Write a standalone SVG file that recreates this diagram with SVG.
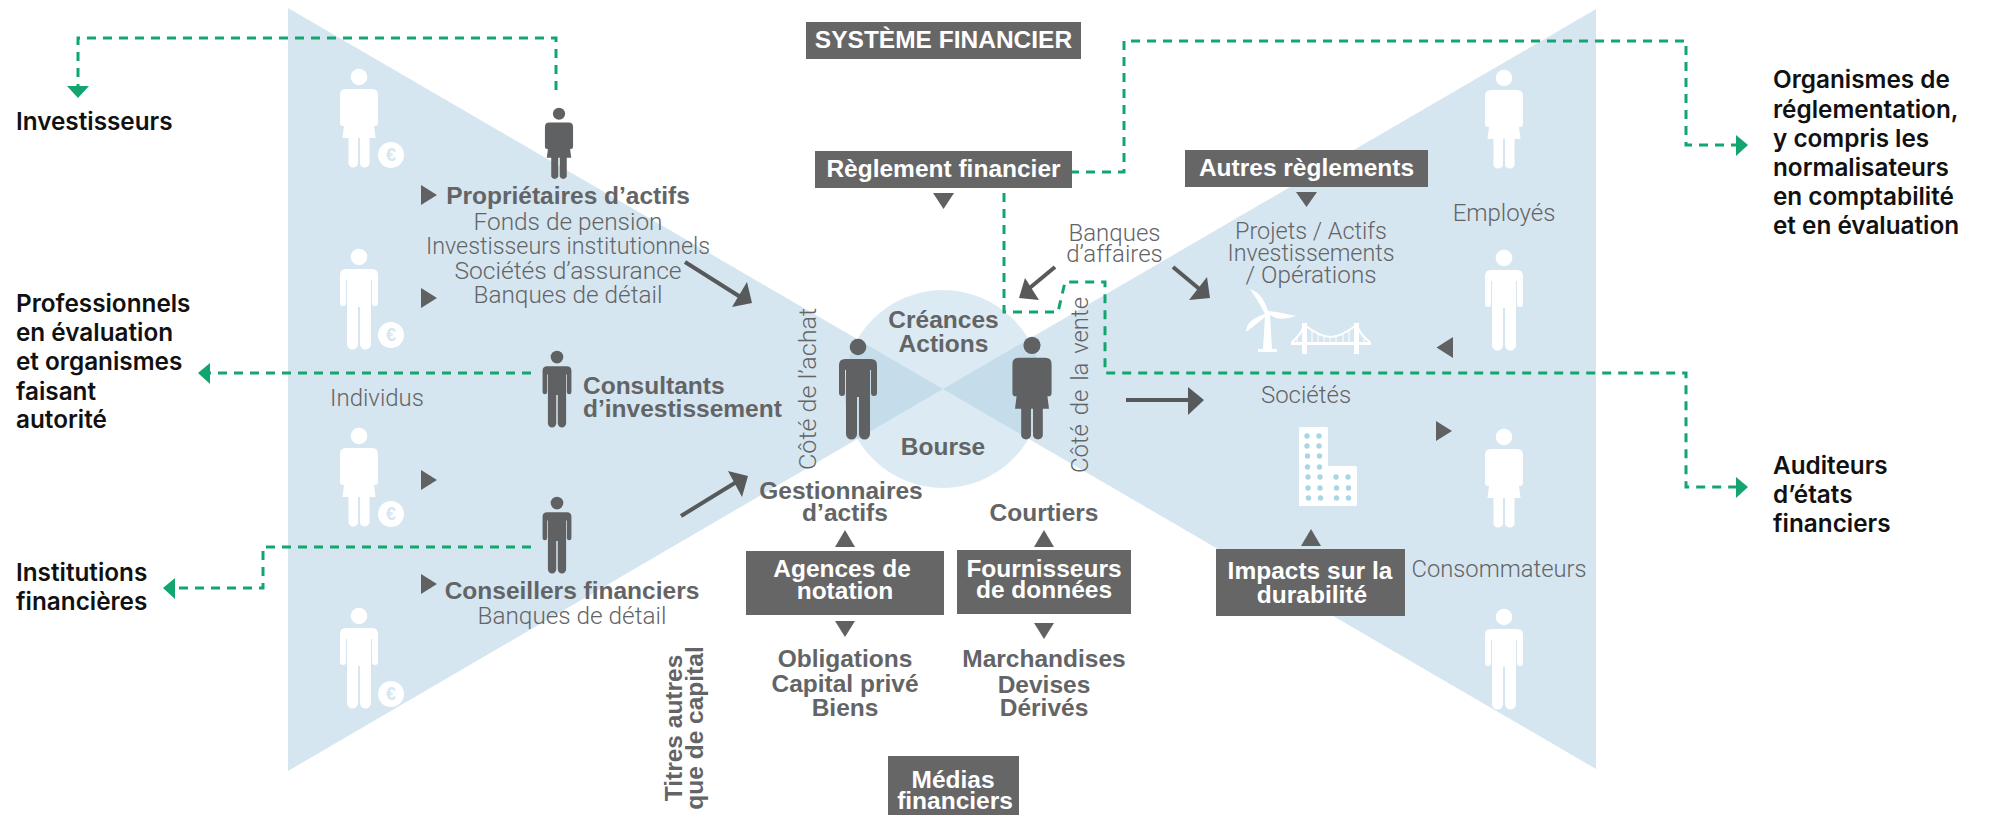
<svg xmlns="http://www.w3.org/2000/svg" xmlns:xlink="http://www.w3.org/1999/xlink" width="1990" height="815" viewBox="0 0 1990 815">
<style>
text{font-family:"Liberation Sans",Arial,sans-serif}
.r{font-family:Roboto,"Liberation Sans",sans-serif;font-weight:300;font-size:24px;fill:#636466;text-anchor:middle}
.b{font-weight:700;font-size:24.5px;fill:#636466;text-anchor:middle}
.w{font-weight:700;font-size:24.5px;fill:#fff;text-anchor:middle}
.k{font-family:Inter,"Liberation Sans",sans-serif;font-weight:600;font-size:24.3px;fill:#111}
.box{fill:#666}
.tri{fill:#5f6163}
.dash{fill:none;stroke:#13a56f;stroke-width:3;stroke-dasharray:9 7}
.ah{fill:#13a56f}
.dk{fill:none;stroke:#58595b;stroke-width:4}
.hd{fill:#58595b}
.eu{fill:#d6e6f1;font-size:18px;font-weight:700;text-anchor:middle}
.ws{fill:#a9d6e4}
</style>
<defs>
<g id="male"><circle cx="0" cy="8" r="8.300"/><path d="M-13 20H13Q19 20 19 26V54A3 3 0 0 1 13 54V31H12V95A5.500 5.500 0 0 1 1 95V58H-1V95A5.500 5.500 0 0 1-12 95V31H-13V54A3 3 0 0 1-19 54V26Q-19 20-13 20Z"/></g>
<g id="female"><circle cx="0" cy="8" r="8.300"/><path d="M-13 20H13Q19 20 19 26V54A3 3 0 0 1 13 54L12 33 16.500 69H10.500V95A5 5 0 0 1 1 95V69H-1V95A5 5 0 0 1-10.500 95V69H-16.500L-12 33-13 54A3 3 0 0 1-19 54V26Q-19 20-13 20Z"/></g>
<clipPath id="cc"><circle cx="943" cy="389" r="99"/></clipPath>
</defs>
<g id="background">
<path d="M288 8L943 389 288 771Z" fill="#d6e6f1"/>
<path d="M1596 9L943 389 1596 769Z" fill="#d6e6f1"/>
<circle cx="943" cy="389" r="99" fill="#dcebf3"/>
<g clip-path="url(#cc)" fill="#c5dcea"><path d="M288 8L943 389 288 771Z"/><path d="M1596 9L943 389 1596 769Z"/></g>
</g>
<g id="individus-figures" fill="#fff">
<use xlink:href="#female" transform="translate(359 69)"/><circle cx="391" cy="155" r="13"/><text class="eu" x="391" y="161">€</text>
<use xlink:href="#male" transform="translate(359 249)"/><circle cx="391" cy="335" r="13"/><text class="eu" x="391" y="341">€</text>
<use xlink:href="#female" transform="translate(359 428)"/><circle cx="391" cy="514" r="13"/><text class="eu" x="391" y="520">€</text>
<use xlink:href="#male" transform="translate(359 608)"/><circle cx="391" cy="694" r="13"/><text class="eu" x="391" y="700">€</text>
<text class="r" x="377" y="406">Individus</text>
</g>
<g id="employes-figures" fill="#fff">
<use xlink:href="#female" transform="translate(1504 70)"/>
<use xlink:href="#male" transform="translate(1504 250)"/>
<use xlink:href="#female" transform="translate(1504 429)"/>
<use xlink:href="#male" transform="translate(1504 609)"/>
<text class="r" x="1504" y="221">Employés</text>
<text class="r" x="1499" y="577" textLength="175" lengthAdjust="spacingAndGlyphs">Consommateurs</text>
</g>
<g id="connectors">
<path class="dash" d="M556 90V38H78V86"/><path class="ah" d="M67 86H89L78 98Z"/>
<path class="dash" d="M531 373H210"/><path class="ah" d="M210 363V384L198 373Z"/>
<path class="dash" d="M531 547H263V588H175"/><path class="ah" d="M175 578V599L163 588Z"/>
<path class="dash" d="M1070 172H1124V41H1686V145H1736"/><path class="ah" d="M1736 135V156L1748 145Z"/>
<path class="dash" d="M1004 193V312H1058L1065 282H1105V373H1686V487H1736"/><path class="ah" d="M1736 477V498L1748 487Z"/>
<path class="dk" d="M685 262L742 298"/><path class="hd" d="M747 282L752 303 732 307Z"/>
<path class="dk" d="M681 516L738 481"/><path class="hd" d="M728 471L748 476 742 497Z"/>
<path class="dk" d="M1055 267L1026 291"/><path class="hd" d="M1025 278L1019 298 1039 300Z"/>
<path class="dk" d="M1173 267L1203 292"/><path class="hd" d="M1207 277L1210 298 1189 300Z"/>
<path class="dk" d="M1126 400H1192"/><path class="hd" d="M1188 387L1204 400 1188 415Z"/>
<path class="tri" d="M421 185L437 195 421 205Z"/>
<path class="tri" d="M421 288L437 298 421 308Z"/>
<path class="tri" d="M421 470L437 480 421 490Z"/>
<path class="tri" d="M421 574L437 584 421 594Z"/>
<path class="tri" d="M933 193H954L943.500 209Z"/>
<path class="tri" d="M1296 192H1317L1306.500 207Z"/>
<path class="tri" d="M1453 337V358L1436.500 347.500Z"/>
<path class="tri" d="M1436 421L1452 431 1436 441Z"/>
<path class="tri" d="M1301 546H1321L1311 529Z"/>
<path class="tri" d="M835 547H855L845 530Z"/>
<path class="tri" d="M1034 547H1054L1044 530Z"/>
<path class="tri" d="M835 621H855L845 637Z"/>
<path class="tri" d="M1034 623H1054L1044 639Z"/>
</g>
<g id="systeme-financier"><rect class="box" x="806" y="22" width="275" height="37"/><text class="w" x="943.500" y="48">SYSTÈME FINANCIER</text></g>
<g id="reglement-financier"><rect class="box" x="815" y="151" width="257" height="37"/><text class="w" x="943.500" y="177">Règlement financier</text></g>
<g id="autres-reglements"><rect class="box" x="1185" y="150" width="243" height="37"/><text class="w" x="1306.500" y="176">Autres règlements</text></g>
<g id="agences"><rect class="box" x="746" y="551" width="198" height="64"/><text class="w" x="842" y="577">Agences de</text><text class="w" x="845" y="599">notation</text></g>
<g id="fournisseurs"><rect class="box" x="957" y="550" width="174" height="64"/><text class="w" x="1044" y="577">Fournisseurs</text><text class="w" x="1044" y="598">de données</text></g>
<g id="impacts"><rect class="box" x="1216" y="549" width="189" height="67"/><text class="w" x="1310" y="579">Impacts sur la</text><text class="w" x="1312" y="603">durabilité</text></g>
<g id="medias"><rect class="box" x="888" y="756" width="131" height="59"/><text class="w" x="953" y="788">Médias</text><text class="w" x="955" y="809">financiers</text></g>
<g id="proprietaires" fill="#5f6163"><use xlink:href="#female" transform="translate(559 108) scale(.74 .72)"/>
<text class="b" x="568" y="204">Propriétaires d’actifs</text><text class="r" x="568" y="230" textLength="189" lengthAdjust="spacingAndGlyphs">Fonds de pension</text><text class="r" x="568" y="254" textLength="284" lengthAdjust="spacingAndGlyphs">Investisseurs institutionnels</text><text class="r" x="568" y="279" textLength="227" lengthAdjust="spacingAndGlyphs">Sociétés d’assurance</text><text class="r" x="568" y="303" textLength="189" lengthAdjust="spacingAndGlyphs">Banques de détail</text></g>
<g id="consultants" fill="#5f6163"><use xlink:href="#male" transform="translate(557 351) scale(.76)"/>
<text class="b" x="583" y="394" style="text-anchor:start">Consultants</text><text class="b" x="583" y="417" style="text-anchor:start">d’investissement</text></g>
<g id="conseillers" fill="#5f6163"><use xlink:href="#male" transform="translate(557 497) scale(.76)"/>
<text class="b" x="572" y="599">Conseillers financiers</text><text class="r" x="572" y="624" textLength="189" lengthAdjust="spacingAndGlyphs">Banques de détail</text></g>
<g id="marche" fill="#5f6163">
<use xlink:href="#male" transform="translate(858 339)"/><use xlink:href="#female" transform="translate(1032 337) scale(1.03 1.04)"/>
<text class="b" x="943.500" y="328">Créances</text><text class="b" x="943.500" y="352">Actions</text><text class="b" x="943" y="455">Bourse</text>
<text class="r" transform="translate(816 470) rotate(-90)" style="text-anchor:start" textLength="162" lengthAdjust="spacingAndGlyphs">Côté de l’achat</text>
<text class="r" transform="translate(1088 473) rotate(-90)" style="text-anchor:start;word-spacing:3px" textLength="176" lengthAdjust="spacingAndGlyphs">Côté de la vente</text>
</g>
<g id="gestionnaires"><text class="b" x="841" y="499">Gestionnaires</text><text class="b" x="845" y="521">d’actifs</text></g>
<g id="courtiers"><text class="b" x="1044" y="521">Courtiers</text></g>
<g id="titres"><text class="b" x="845" y="667">Obligations</text><text class="b" x="845" y="692">Capital privé</text><text class="b" x="845" y="716">Biens</text>
<text class="b" x="1044" y="667">Marchandises</text><text class="b" x="1044" y="693">Devises</text><text class="b" x="1044" y="716">Dérivés</text>
<text class="b" transform="translate(682 728) rotate(-90)">Titres autres</text><text class="b" transform="translate(703 728) rotate(-90)">que de capital</text></g>
<g id="banques-affaires"><text class="r" x="1114.500" y="241">Banques</text><text class="r" x="1114.500" y="262">d’affaires</text></g>
<g id="projets"><text class="r" x="1311" y="239" textLength="152" lengthAdjust="spacingAndGlyphs">Projets / Actifs</text><text class="r" x="1311" y="261" textLength="167" lengthAdjust="spacingAndGlyphs">Investissements</text><text class="r" x="1311" y="283" textLength="131" lengthAdjust="spacingAndGlyphs">/ Opérations</text>
<g fill="#fff"><path d="M1265 314Q1258 300 1250 289 1258 292 1262 298 1266 304 1268 311 1280 312 1296 316 1285 320 1276 318L1270 315 1272 349H1277V352H1258V349H1263L1265 317Q1254 326 1246 332 1246 324 1254 319 1260 315 1265 314Z"/></g>
<g fill="none" stroke="#fff"><path stroke-width="5" d="M1304.500 323V354M1356.500 323V354"/><path stroke-width="2" d="M1292 342Q1300 336 1304.500 325Q1320 337 1330.500 337Q1341 337 1356.500 325Q1361 336 1370 342"/><path stroke-width="3" d="M1291 343.500H1371"/><path stroke-width="1" d="M1297 338V343M1312 331V343M1318 334V343M1324 336V343M1330 337V343M1336 336V343M1343 334V343M1349 331V343M1364 338V343"/></g></g>
<g id="societes"><text class="r" x="1306" y="403">Sociétés</text>
<rect x="1299" y="427" width="29" height="79" rx="1.500" fill="#fff"/><rect x="1299" y="466" width="58" height="40" rx="1.500" fill="#fff"/>
<g class="ws"><circle cx="1307" cy="436" r="2.700"/><circle cx="1319" cy="436" r="2.700"/><circle cx="1307" cy="446" r="2.700"/><circle cx="1319" cy="446" r="2.700"/><circle cx="1307.500" cy="456" r="2.700"/><circle cx="1319.500" cy="456" r="2.700"/><circle cx="1307.500" cy="467" r="2.700"/><circle cx="1319.500" cy="467" r="2.700"/><circle cx="1308" cy="477" r="2.700"/><circle cx="1320" cy="477" r="2.700"/><circle cx="1336" cy="477" r="2.700"/><circle cx="1348" cy="477" r="2.700"/><circle cx="1308" cy="488" r="2.700"/><circle cx="1320" cy="488" r="2.700"/><circle cx="1336.500" cy="488" r="2.700"/><circle cx="1348.500" cy="488" r="2.700"/><circle cx="1308.500" cy="498" r="2.700"/><circle cx="1320.500" cy="498" r="2.700"/><circle cx="1336.500" cy="498" r="2.700"/><circle cx="1348.500" cy="498" r="2.700"/></g></g>
<g id="investisseurs"><text class="k" x="16" y="130">Investisseurs</text></g>
<g id="professionnels"><text class="k" x="16" y="312">Professionnels</text><text class="k" x="16" y="341">en évaluation</text><text class="k" x="16" y="370">et organismes</text><text class="k" x="16" y="400">faisant</text><text class="k" x="16" y="428">autorité</text></g>
<g id="institutions"><text class="k" x="16" y="581">Institutions</text><text class="k" x="16" y="610">financières</text></g>
<g id="organismes"><text class="k" x="1773" y="88">Organismes de</text><text class="k" x="1773" y="118">réglementation,</text><text class="k" x="1773" y="147">y compris les</text><text class="k" x="1773" y="176">normalisateurs</text><text class="k" x="1773" y="205">en comptabilité</text><text class="k" x="1773" y="234">et en évaluation</text></g>
<g id="auditeurs"><text class="k" x="1773" y="474">Auditeurs</text><text class="k" x="1773" y="503">d’états</text><text class="k" x="1773" y="532">financiers</text></g>
</svg>
